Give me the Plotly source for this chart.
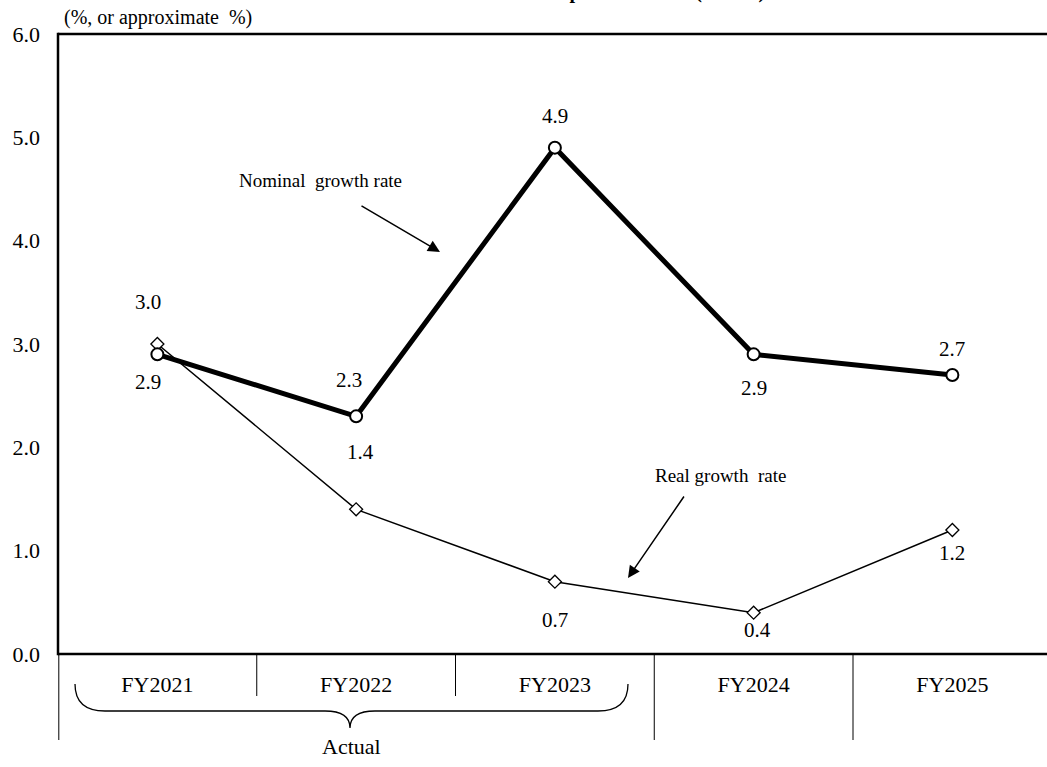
import plotly.graph_objects as go

# ---- data ----
categories = ["FY2021", "FY2022", "FY2023", "FY2024", "FY2025"]
nominal = [2.9, 2.3, 4.9, 2.9, 2.7]
real = [3.0, 1.4, 0.7, 0.4, 1.2]
y_ticks = [0, 1, 2, 3, 4, 5, 6]
group_label = "Actual"
unit_label = "(%, or approximate  %)"
nominal_name = "Nominal  growth rate"
real_name = "Real growth  rate"
title_text = "Economic Growth Rates Comparison Chart (Actual)"

# ---- style / layout ----
FONT = "Liberation Serif"
L, R, T, B = 58, 0, 34, 113
W, H = 1047, 767
pw = W - L - R
ph = H - T - B
unit = 198.75
xr = [-0.5, -0.5 + pw / unit]

def py2paper(py):
    return (H - B - py) / ph

def px2x(px):
    return (px - L) / unit - 0.5

def py2y(py):
    return (H - B - py) / ph * 6

xs = list(range(len(categories)))

fig = go.Figure()
fig.add_trace(go.Scatter(
    x=xs, y=real, mode="lines+markers", name=real_name,
    line=dict(color="black", width=1.5),
    marker=dict(symbol="diamond", size=10, color="white",
                line=dict(color="black", width=1.3)),
    showlegend=False, cliponaxis=False))
fig.add_trace(go.Scatter(
    x=xs, y=nominal, mode="lines+markers", name=nominal_name,
    line=dict(color="black", width=5),
    marker=dict(symbol="circle", size=12, color="white",
                line=dict(color="black", width=2)),
    showlegend=False, cliponaxis=False))

LBL = 21
annotations = []
# value labels (offsets in px)
nom_off = [(-9, -28), (-7, 36), (0, 32), (0, -34), (0, 26)]
real_off = [(-9, 42), (4, 57), (0, -38), (4, -17), (0, -23)]
for i, v in enumerate(nominal):
    annotations.append(dict(x=i, y=v, text=f"{v:.1f}", showarrow=False,
                            xshift=nom_off[i][0], yshift=nom_off[i][1],
                            font=dict(family=FONT, size=LBL, color="black")))
for i, v in enumerate(real):
    annotations.append(dict(x=i, y=v, text=f"{v:.1f}", showarrow=False,
                            xshift=real_off[i][0], yshift=real_off[i][1],
                            font=dict(family=FONT, size=LBL, color="black")))

# series name labels with arrows
annotations.append(dict(x=px2x(320), y=py2y(180), text=nominal_name, showarrow=False,
                        font=dict(family=FONT, size=19, color="black")))
annotations.append(dict(x=px2x(440), y=py2y(252), ax=-80, ay=-47, text="",
                        showarrow=True, arrowhead=2, arrowsize=1.6, arrowwidth=1.5,
                        arrowcolor="black"))
annotations.append(dict(x=px2x(720), y=py2y(475), text=real_name, showarrow=False,
                        font=dict(family=FONT, size=19, color="black")))
annotations.append(dict(x=px2x(628), y=py2y(578), ax=57, ay=-83, text="",
                        showarrow=True, arrowhead=2, arrowsize=1.6, arrowwidth=1.5,
                        arrowcolor="black"))

# unit label
annotations.append(dict(xref="paper", yref="paper", x=(62 - L) / pw, y=py2paper(17),
                        xanchor="left", yanchor="middle", text=unit_label,
                        showarrow=False, font=dict(family=FONT, size=20, color="black")))
# group label
annotations.append(dict(x=px2x(351), yref="paper", y=py2paper(761), text=group_label,
                        showarrow=False, font=dict(family=FONT, size=22, color="black")))
# chart title, cut off at the very top as in the source image
annotations.append(dict(xref="paper", yref="paper", x=(540 - L) / pw, y=py2paper(-9),
                        xanchor="center", yanchor="middle", text=f"<b>{title_text}</b>",
                        showarrow=False, font=dict(family=FONT, size=20, color="black")))

shapes = []
# frame: top, left, bottom (frame continues off the right edge of the page)
frame = dict(color="black", width=2.5)
shapes.append(dict(type="line", xref="paper", yref="paper", x0=0, x1=1.01, y0=1, y1=1,
                   line=frame))
shapes.append(dict(type="line", xref="paper", yref="paper", x0=0, x1=1.01, y0=0, y1=0,
                   line=frame))
shapes.append(dict(type="line", xref="paper", yref="paper", x0=0, x1=0, y0=-0.002,
                   y1=1.002, line=frame))
# dividers below axis
for b in [-0.5, 0.5, 1.5, 2.5, 3.5]:
    long = b in (-0.5, 2.5, 3.5)
    xb = b + 0.004 if b == -0.5 else b
    shapes.append(dict(type="line", xref="x", yref="paper", x0=xb, x1=xb,
                       y0=0, y1=py2paper(740 if long else 696),
                       line=dict(color="black", width=1)))
# brace under the actual years
yb_end = py2paper(684)
yb_mid = py2paper(711)
yb_tip = py2paper(728)
xl, xl2 = px2x(75), px2x(105)
xm1, xm, xm2 = px2x(325), px2x(350), px2x(375)
xr2, xr1 = px2x(598), px2x(628)
path = (f"M {xl},{yb_end} Q {xl},{yb_mid} {xl2},{yb_mid} L {xm1},{yb_mid} "
        f"Q {xm},{yb_mid} {xm},{yb_tip} Q {xm},{yb_mid} {xm2},{yb_mid} "
        f"L {xr2},{yb_mid} Q {xr1},{yb_mid} {xr1},{yb_end}")
shapes.append(dict(type="path", xref="x", yref="paper", path=path,
                   line=dict(color="black", width=1.3)))

fig.update_layout(
    width=W, height=H,
    margin=dict(l=L, r=R, t=T, b=B, pad=0),
    paper_bgcolor="white", plot_bgcolor="white",
    font=dict(family=FONT, size=20, color="black"),
    annotations=annotations, shapes=shapes,
    xaxis=dict(range=xr, tickmode="array", tickvals=xs, ticktext=categories,
               showgrid=False, zeroline=False, showline=False, ticks="",
               ticklabelstandoff=15,
               tickfont=dict(family=FONT, size=22, color="black")),
    yaxis=dict(range=[0, 6], tickmode="array", tickvals=y_ticks, tickformat=".1f",
               showgrid=False, zeroline=False, showline=False, ticks="",
               ticklabelstandoff=17,
               tickfont=dict(family=FONT, size=22, color="black")),
)

fig.write_html(
    "out.html",
    config={"displayModeBar": False},
    post_script="document.body.style.margin='0';document.body.style.overflow='hidden';",
)
